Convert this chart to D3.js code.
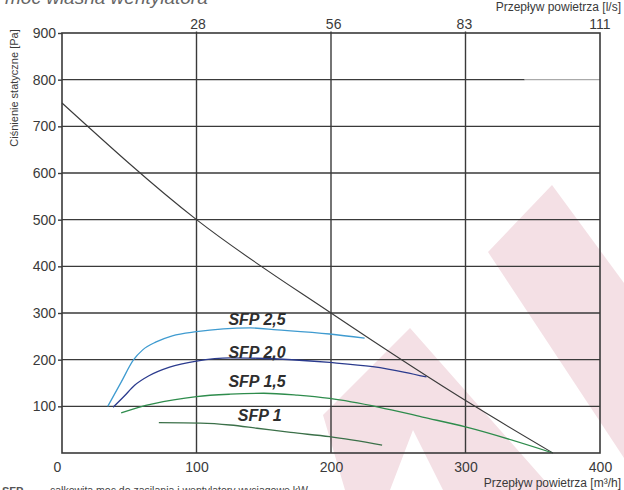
<!DOCTYPE html>
<html>
<head>
<meta charset="utf-8">
<script src="https://cdn.jsdelivr.net/npm/d3@7"></script>
<style>
  body { margin: 0; background: #fff; }
  svg { display: block; }
  text { font-family: "Liberation Sans", Arial, sans-serif; }
</style>
</head>
<body>
<svg id="chart" width="624" height="490"></svg>
<script>
// Air flow axis [m³/h] and its twin in [l/s]
const flowTicks = [0, 100, 200, 300, 400];
const flowTopTicks = [28, 56, 83, 111];
// Static pressure axis [Pa]
const pressureTicks = [100, 200, 300, 400, 500, 600, 700, 800, 900];

// Fan characteristic: [flow m³/h, pressure Pa]
const fanCurve = [[0, 750], [100, 500], [200, 300], [307, 100], [365, 0]];

// Specific fan power iso-lines: [flow m³/h, pressure Pa]
const sfp25 = [[34, 100], [44, 152], [53, 199], [60, 221], [70, 238], [82, 251], [100, 260], [120, 266], [140, 268], [160, 264], [199, 255], [225, 246]];
const sfp20 = [[38, 98], [46, 121], [54, 145], [65, 166], [80, 184], [100, 197], [125, 204], [145, 203], [199, 194], [231, 185], [255, 173], [271, 163]];
const sfp15 = [[44, 86], [57, 98], [83, 114], [100, 121], [125, 126], [150, 128], [175, 124], [199, 117], [236, 98], [268, 77], [300, 56], [365, 0]];
const sfp10 = [[72, 65], [103, 64], [125, 60], [145, 53], [170, 44], [199, 35], [238, 17]];

const sfpNames = ["SFP 2,5", "SFP 2,0", "SFP 1,5", "SFP 1"];
const sfpSeries = [sfp25, sfp20, sfp15, sfp10];
const sfpColors = ["#3f9bd0", "#2b3b8e", "#2e8c4c", "#3b7049"];
// Label anchors [flow, pressure] for each SFP line
const sfpLabelAt = [[145, 274], [145, 204], [145, 141], [147, 69]];

const svg = d3.select("#chart");
const x = d3.scaleLinear().domain([0, 400]).range([62, 600]);
const xTop = d3.scaleLinear().domain([0, 400 / 3.6]).range([62, 600]);
const y = d3.scaleLinear().domain([0, 900]).range([453, 33]);

// Background logo watermark (pixel outlines)
const logoShapes = [
  [[410, 328], [553, 490], [443, 490], [413, 430], [390, 490], [345, 490], [323, 415]],
  [[552, 185], [624, 283], [624, 458], [488, 252]]
];
svg.append("g").selectAll("path").data(logoShapes).join("path")
  .attr("d", d => "M" + d.map(p => p.join(",")).join("L") + "Z")
  .attr("fill", "#f4e0e5");

// Title (clipped at the top of the page)
svg.append("text").attr("x", 5).attr("y", 4)
  .attr("font-size", 19).attr("font-style", "italic").attr("fill", "#666")
  .text("moc własna wentylatora");

// Grid
const grid = svg.append("g").attr("stroke", "#3a3a3a").attr("stroke-width", 1.4);
grid.selectAll("line.h").data(pressureTicks.filter(v => v < 900)).join("line")
  .attr("x1", x(0)).attr("x2", d => d === 800 ? x(344) : x(400))
  .attr("y1", d => y(d)).attr("y2", d => y(d));
grid.append("line").attr("x1", x(344)).attr("x2", x(400))
  .attr("y1", y(800)).attr("y2", y(800)).attr("stroke", "#aaa");
grid.selectAll("line.v").data([100, 200, 300]).join("line")
  .attr("x1", d => x(d)).attr("x2", d => x(d))
  .attr("y1", y(900) - 1.5).attr("y2", y(0));

// Curves
const line = d3.line().x(d => x(d[0])).y(d => y(d[1])).curve(d3.curveMonotoneX);
svg.append("path").attr("d", line(fanCurve)).attr("fill", "none")
  .attr("stroke", "#3a3a3a").attr("stroke-width", 1.1);
svg.append("g").selectAll("path").data(sfpSeries).join("path")
  .attr("d", d => line(d)).attr("fill", "none")
  .attr("stroke", (d, i) => sfpColors[i]).attr("stroke-width", 1.3);

// Frame
svg.append("rect").attr("x", x(0)).attr("y", y(900))
  .attr("width", x(400) - x(0)).attr("height", y(0) - y(900))
  .attr("fill", "none").attr("stroke", "#3a3a3a").attr("stroke-width", 1.6);

// SFP labels
svg.append("g").selectAll("text").data(sfpNames).join("text")
  .attr("x", (d, i) => x(sfpLabelAt[i][0])).attr("y", (d, i) => y(sfpLabelAt[i][1]))
  .attr("text-anchor", "middle").attr("font-size", 16).attr("font-weight", "bold")
  .attr("font-style", "italic").attr("fill", "#2e2e2e")
  .text(d => d);

// Left axis
const yAxis = svg.append("g").attr("transform", `translate(${x(0)},0)`)
  .call(d3.axisLeft(y).tickValues(pressureTicks).tickSize(4).tickPadding(2).tickFormat(d3.format("d")));
yAxis.select(".domain").remove();
yAxis.selectAll("line").attr("stroke", "#3a3a3a").attr("stroke-width", 1.4);
yAxis.selectAll("text").attr("font-size", 14).attr("fill", "#3a3a3a").attr("font-family", "Liberation Sans, Arial, sans-serif");

// Bottom axis
const xAxis = svg.append("g").attr("transform", `translate(0,${y(0)})`)
  .call(d3.axisBottom(x).tickValues(flowTicks).tickSize(0).tickPadding(9).tickFormat(d3.format("d")));
xAxis.select(".domain").remove();
xAxis.selectAll("text").attr("font-size", 14).attr("fill", "#3a3a3a").attr("font-family", "Liberation Sans, Arial, sans-serif")
  .attr("dx", d => d === 0 ? -5 : 0);

// Top axis [l/s]
const topAxis = svg.append("g").attr("transform", `translate(0,${y(900)})`)
  .call(d3.axisTop(xTop).tickValues(flowTopTicks).tickSize(0).tickPadding(4).tickFormat(d3.format("d")));
topAxis.select(".domain").remove();
topAxis.selectAll("text").attr("font-size", 14).attr("fill", "#3a3a3a").attr("font-family", "Liberation Sans, Arial, sans-serif");

// Axis titles
svg.append("text").attr("x", 621).attr("y", 11).attr("text-anchor", "end")
  .attr("font-size", 12).attr("fill", "#3a3a3a").text("Przepływ powietrza  [l/s]");
svg.append("text").attr("x", 621).attr("y", 487).attr("text-anchor", "end")
  .attr("font-size", 12).attr("fill", "#3a3a3a").text("Przepływ powietrza  [m³/h]");
svg.append("text").attr("transform", "translate(18,88) rotate(-90)").attr("text-anchor", "middle")
  .attr("font-size", 11).attr("fill", "#3a3a3a").text("Ciśnienie statyczne  [Pa]");

// Footnote (clipped at the bottom of the page)
svg.append("text").attr("x", 2).attr("y", 495).attr("font-size", 11).attr("font-weight", "bold")
  .attr("fill", "#555").text("SFP");
svg.append("text").attr("x", 50).attr("y", 494).attr("font-size", 10.5)
  .attr("fill", "#444").text("całkowita moc do zasilania i wentylatory wyciągowe kW");
</script>
</body>
</html>
